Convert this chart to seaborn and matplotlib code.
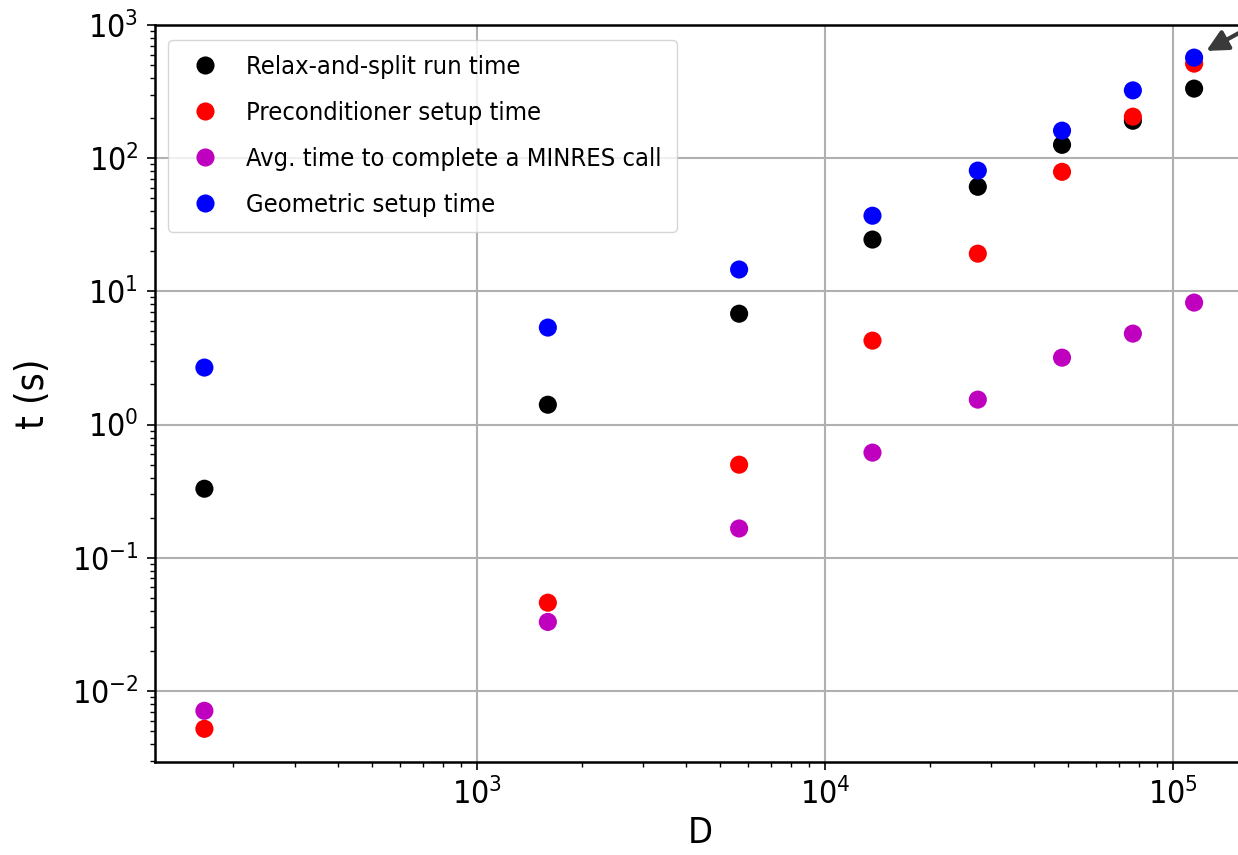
import numpy as np
import pandas as pd
import matplotlib
matplotlib.use("Agg")
import matplotlib.pyplot as plt
import seaborn as sns

# Data
D = [165, 1600, 5670, 13700, 27500, 48000, 76700, 115000]
relax_split = [0.33, 1.41, 6.8, 24.5, 61, 126, 191, 333]
precond_setup = [0.0052, 0.046, 0.50, 4.27, 19.2, 79, 205, 513]
minres_avg = [0.0071, 0.033, 0.166, 0.616, 1.54, 3.18, 4.82, 8.24]
geom_setup = [2.68, 5.35, 14.6, 37, 80.7, 161, 323, 569]

labels = ["Relax-and-split run time", "Preconditioner setup time",
          "Avg. time to complete a MINRES call", "Geometric setup time"]
colors = ["black", "red", "m", "blue"]

series = [relax_split, precond_setup, minres_avg, geom_setup]
df = pd.concat([pd.DataFrame({"D": D, "t": s, "series": lab})
                for s, lab in zip(series, labels)], ignore_index=True)

sns.set_style("ticks", rc={"text.color": "black", "axes.labelcolor": "black",
                           "xtick.color": "black", "ytick.color": "black",
                           "axes.edgecolor": "black"})
plt.rcParams['font.family'] = ['DejaVu Sans']
plt.rcParams['font.stretch'] = 'condensed'

fig = plt.figure(figsize=(12.38, 8.55), dpi=100)
ax = fig.add_axes([155/1238, 93/855, 1090/1238, 737/855])

sns.scatterplot(data=df, x="D", y="t", hue="series", hue_order=labels,
                palette=dict(zip(labels, colors)), s=170, linewidth=0,
                ax=ax, zorder=3)

ax.set_xscale("log")
ax.set_yscale("log")
ax.set_xlim(119, 10 ** (5 + 72 / 348))
ax.set_ylim(2.93e-3, 1e3)
ax.grid(True, which="major", color="#b0b0b0", linewidth=1.5, zorder=0)
ax.set_axisbelow(True)

for sp in ax.spines.values():
    sp.set_color("black")
    sp.set_linewidth(1.8)
ax.spines["right"].set_visible(False)

ax.tick_params(which="major", length=6, width=1.2, labelsize=23, direction="out",
               bottom=True, left=True, pad=6)
ax.tick_params(which="minor", length=3.5, width=1.0, bottom=True, left=True)
ax.set_xlabel("D", fontsize=26, labelpad=3)
ax.set_ylabel("t (s)", fontsize=28, labelpad=14)

handles, labs = ax.get_legend_handles_labels()
ax.legend(handles=handles, labels=labs, loc="upper left", fontsize=18.3,
          frameon=True, framealpha=0.8, edgecolor="#cccccc", fancybox=True,
          handlelength=1.68, handletextpad=0.8, markerscale=1.0,
          borderpad=0.6, labelspacing=0.86, borderaxespad=0.0,
          bbox_to_anchor=((168 - 155) / 1090, (762 - 40) / 737),
          bbox_transform=ax.transAxes)

ax.annotate("", xy=(D[-1], geom_setup[-1]), xytext=(60, 33),
            textcoords="offset points",
            arrowprops=dict(arrowstyle="-|>", color="#3a3a3a", lw=3,
                            mutation_scale=32, shrinkA=0, shrinkB=10),
            annotation_clip=False)

fig.savefig("out.png", dpi=100)
